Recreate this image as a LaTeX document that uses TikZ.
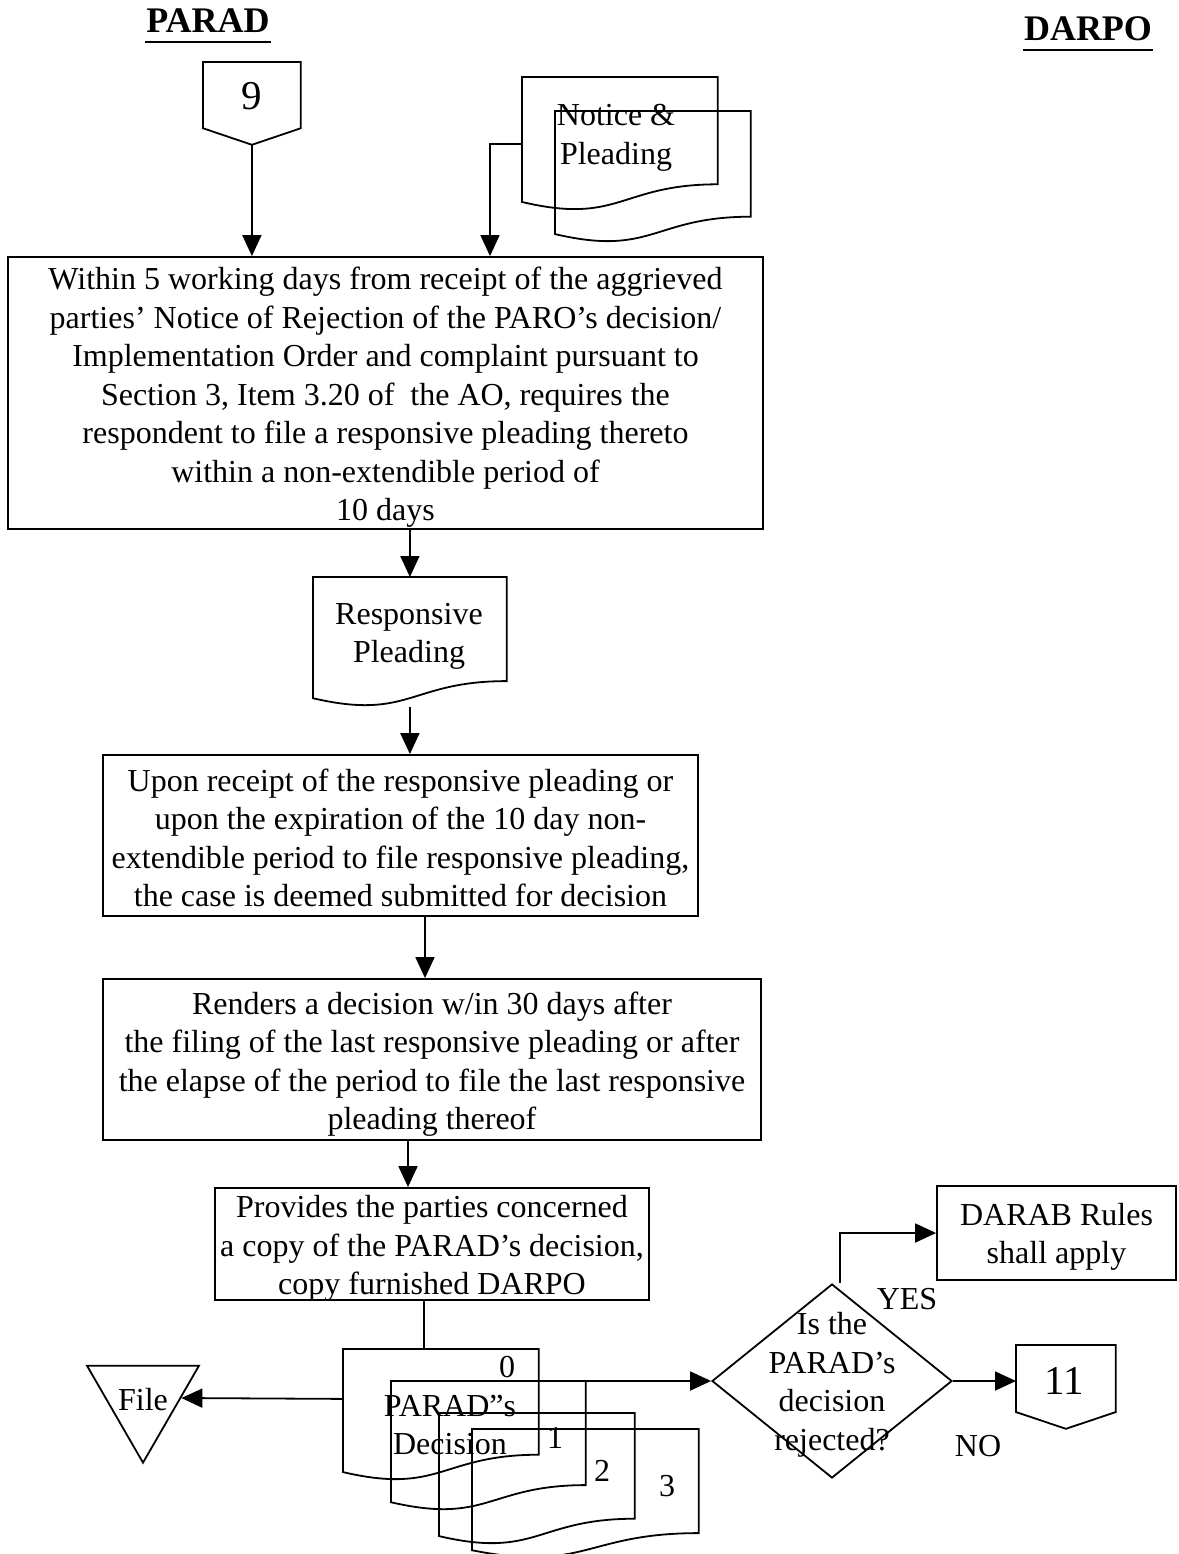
\documentclass[tikz,border=0pt]{standalone}
\usepackage{fontspec}
\setmainfont{Liberation Serif}
\usetikzlibrary{arrows.meta,calc,shapes.geometric}

\newcommand\bodyfont{\fontsize{32pt}{38.5pt}\selectfont}
\newcommand\headfont{\fontsize{36pt}{40pt}\selectfont\bfseries}
\newcommand\pagefont{\fontsize{41pt}{44pt}\selectfont}

% document symbol: flat top, wavy bottom edge (drawn on a plain rectangle node)
\newcommand\docoutline[1]{%
  \draw (#1.north west) -- (#1.north east)
    -- ($(#1.north east)!0.802!(#1.south east)$)
    .. controls ($(#1.north)!0.802!(#1.south)$) and ($(#1.north)!1.1075!(#1.south)$)
    .. ($(#1.north west)!0.934!(#1.south west)$) -- cycle;}

% off-page connector: box with a pointed bottom
\newcommand\offpageoutline[1]{%
  \draw (#1.north west) -- (#1.north east)
    -- ($(#1.north east)!0.8!(#1.south east)$) -- (#1.south)
    -- ($(#1.north west)!0.8!(#1.south west)$) -- cycle;}

\begin{document}
\begin{tikzpicture}[x=1pt,y=-1pt,line width=1.8pt,
  every node/.style={font=\bodyfont,inner sep=0pt},
  procbox/.style={draw,rectangle,inner sep=0pt},
  docbox/.style={rectangle,anchor=north west,inner sep=0pt},
  txt/.style={align=center},
  arr/.style={-{Triangle[length=21pt,width=19pt]}}]

\useasboundingbox (0,0) rectangle (1178,1554);

% column headings
\node[font=\headfont,anchor=base] (hparad) at (208,33) {PARAD};
\node[font=\headfont,anchor=base] (hdarpo) at (1088,41) {DARPO};
\draw[line width=2.5pt] ([yshift=-9pt]hparad.base west) -- ([yshift=-9pt]hparad.base east);
\draw[line width=2.5pt] ([yshift=-9pt]hdarpo.base west) -- ([yshift=-9pt]hdarpo.base east);

% off-page connector 9
\node[rectangle,anchor=north west,minimum width=96pt,minimum height=81pt] (c9) at (203,62) {};
\offpageoutline{c9}
\node[font=\pagefont] (c9T) at (252,96) {9};

% notice and pleading (two sheets)
\node[docbox,minimum width=194pt,minimum height=132pt] (nb) at (522,77) {};
\node[docbox,minimum width=194pt,minimum height=130pt] (nf) at (555,111) {};
\docoutline{nb}
\docoutline{nf}
\node[txt] (nT) at (616,138) {Notice \&\\Pleading};

% main process box
\node[procbox,minimum width=755pt,minimum height=272pt] (main) at (385.5,393) {};
\node[txt] (mainT) at ([yshift=-4.5pt]main.center)
  {Within 5 working days from receipt of the aggrieved\\
   parties’ Notice of Rejection of the PARO’s decision/\\
   Implementation Order and complaint pursuant to\\
   Section 3, Item 3.20 of \ the AO, requires the\\
   respondent to file a responsive pleading thereto\\
   within a non-extendible period of\\
   10 days};

% responsive pleading document
\node[docbox,minimum width=192pt,minimum height=128pt] (resp) at (313,577) {};
\docoutline{resp}
\node[txt] (respT) at (409,636.5) {Responsive\\Pleading};

\node[procbox,minimum width=595pt,minimum height=161pt] (box2) at (400.5,835.5) {};
\node[txt] (box2T) at ([yshift=-2.5pt]box2.center)
  {Upon receipt of the responsive pleading or\\
   upon the expiration of the 10 day non-\\
   extendible period to file responsive pleading,\\
   the case is deemed submitted for decision};

\node[procbox,minimum width=658pt,minimum height=161pt] (box3) at (432,1059.5) {};
\node[txt] (box3T) at ([yshift=-4.5pt]box3.center)
  {Renders a decision w/in 30 days after\\
   the filing of the last responsive pleading or after\\
   the elapse of the period to file the last responsive\\
   pleading thereof};

\node[procbox,minimum width=434pt,minimum height=112pt] (box4) at (432,1244) {};
\node[txt] (box4T) at ([yshift=-4.5pt]box4.center)
  {Provides the parties concerned\\
   a copy of the PARAD’s decision,\\
   copy furnished DARPO};

% decision copies 0-3
\node[docbox,minimum width=194pt,minimum height=130pt] (d0) at (343,1349) {};
\node[docbox,minimum width=193pt,minimum height=128pt] (d1) at (391,1381) {};
\node[docbox,minimum width=194pt,minimum height=130pt] (d2) at (439,1413) {};
\node[docbox,minimum width=225pt,minimum height=128pt] (d3) at (472,1429) {};
\docoutline{d0}
\docoutline{d1}
\docoutline{d2}
\docoutline{d3}
\node[txt] (dT) at (450,1425) {PARAD”s\\Decision};
\node (n0) at (507,1367) {0};
\node (n1) at (555,1438) {1};
\node (n2) at (602,1471) {2};
\node (n3) at (667,1486) {3};

% file
\node[draw,regular polygon,regular polygon sides=3,shape border rotate=180,
      minimum size=129.3pt,inner sep=0pt] (file) at (143,1398) {};
\node (fileT) at (143,1400) {File};

% decision diamond
\node[draw,diamond,minimum width=240pt,minimum height=194pt,inner sep=0pt] (dia) at (832,1381) {};
\node[txt] (diaT) at (832,1385) {Is the\\PARAD’s\\decision\\rejected?};

\node[procbox,minimum width=239pt,minimum height=94pt] (darab) at (1056.5,1233) {};
\node[txt] (darabT) at ([yshift=-4pt]darab.center) {DARAB Rules\\shall apply};

% off-page connector 11
\node[rectangle,anchor=north west,minimum width=98pt,minimum height=82pt] (c11) at (1016,1345) {};
\offpageoutline{c11}
\node[font=\pagefont] (c11T) at (1064,1381) {11};

\node (yes) at (907,1299) {YES};
\node (no) at (978,1446) {NO};

% connectors
\draw[arr] (c9.south) -- (c9.south |- main.north);
\draw[arr] (nb.west) -| ([xshift=104.5pt]main.north);
\draw[arr] (main.south -| resp.north) -- (resp.north);
\draw[arr] (resp.south) -- (resp.south |- box2.north);
\draw[arr] ([xshift=24.5pt]box2.south) -- ([xshift=24.5pt]box2.south |- box3.north);
\draw[arr] ([xshift=-24pt]box3.south) -- ([xshift=-24pt]box3.south |- box4.north);
\draw ([xshift=-8pt]box4.south) -- ([xshift=-8pt]box4.south |- d0.north);
\draw[arr] ([yshift=16pt]d0.west) -- (file.east);
\draw[arr] (d1.north east) -- (dia.west);
\draw[arr] ([xshift=8pt]dia.north) |- (darab.west);
\draw[arr] (dia.east) -- (dia.east -| c11.west);
\end{tikzpicture}
\end{document}
